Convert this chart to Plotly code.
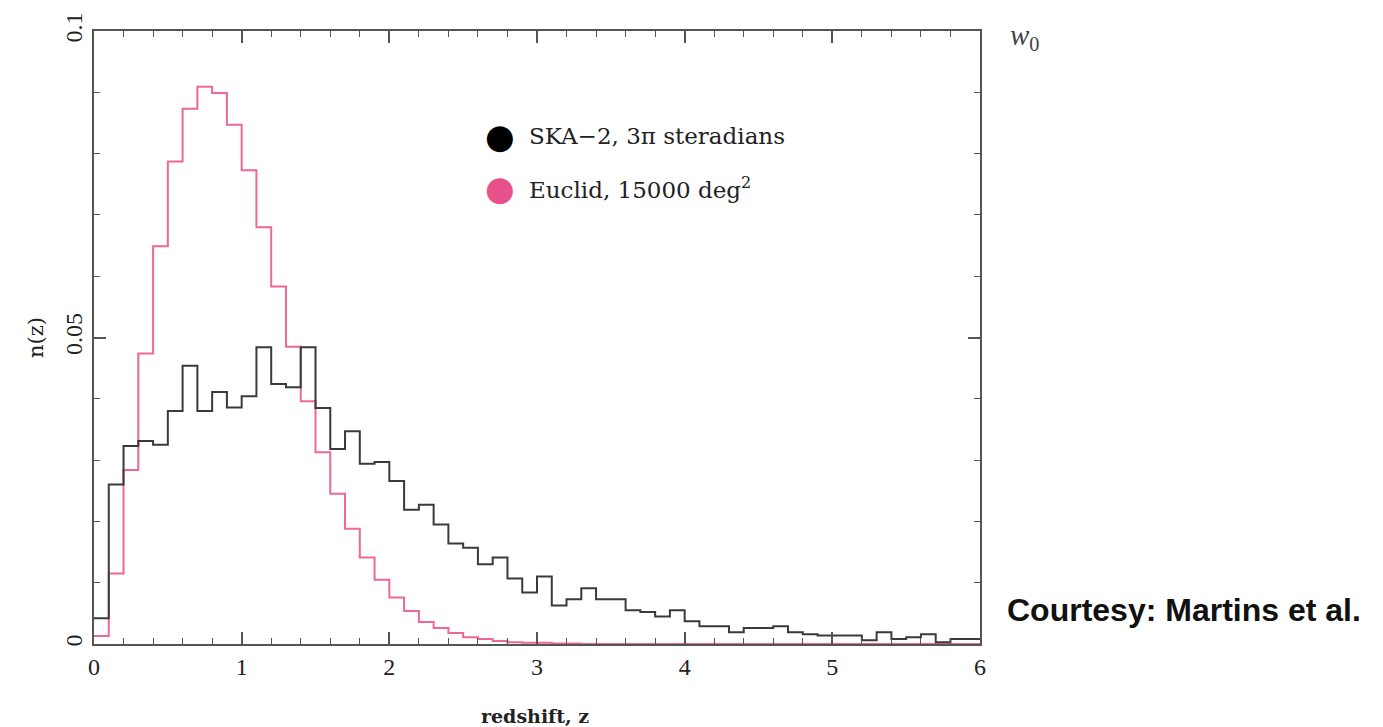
import numpy as np
import plotly.graph_objects as go

# bin edges: redshift 0..6 in steps of 0.1
bin_width = 0.1
n_bins = 60

ska_values = [
    0.0042, 0.0260, 0.0323, 0.0331, 0.0325, 0.0380, 0.0454, 0.0380, 0.0411, 0.0386,
    0.0404, 0.0484, 0.0424, 0.0419, 0.0484, 0.0385, 0.0318, 0.0347, 0.0294, 0.0297,
    0.0266, 0.0219, 0.0227, 0.0195, 0.0164, 0.0157, 0.0130, 0.0141, 0.0107, 0.0084,
    0.0110, 0.0063, 0.0073, 0.0091, 0.0073, 0.0073, 0.0055, 0.0052, 0.0045, 0.0055,
    0.0037, 0.0029, 0.0029, 0.0019, 0.0026, 0.0026, 0.0029, 0.0019, 0.0016, 0.0014,
    0.0014, 0.0014, 0.0006, 0.0019, 0.0008, 0.0011, 0.0016, 0.0003, 0.0008, 0.0008,
]

euclid_values = [
    0.0013, 0.0115, 0.0284, 0.0474, 0.0649, 0.0787, 0.0873, 0.0909, 0.0899, 0.0847,
    0.0773, 0.0680, 0.0583, 0.0485, 0.0396, 0.0313, 0.0245, 0.0188, 0.0141, 0.0105,
    0.0076, 0.0054, 0.0036, 0.0026, 0.0018, 0.0011, 0.0008, 0.0005, 0.0003, 0.0002,
    0.0002, 0.0001, 0.0001, 0.0, 0.0, 0.0, 0.0, 0.0, 0.0, 0.0,
    0.0, 0.0, 0.0, 0.0, 0.0, 0.0, 0.0, 0.0, 0.0, 0.0,
    0.0, 0.0, 0.0, 0.0, 0.0, 0.0, 0.0, 0.0, 0.0, 0.0,
]

x_tick_vals = [0, 1, 2, 3, 4, 5, 6]
x_tick_text = ["0", "1", "2", "3", "4", "5", "6"]
y_tick_vals = [0, 0.05, 0.1]
y_tick_text = ["0", "0.05", "0.1"]

ska_label = "SKA\u22122, 3\u03c0 steradians"
euclid_label = "Euclid, 15000 deg<sup>2</sup>"

edges = np.arange(n_bins + 1) * bin_width


def step_xy(vals):
    xs = list(edges)
    ys = list(vals) + [vals[-1]]
    return xs, ys


BLACK = "#3a3a3a"
PINK = "#ef6894"
AXIS = "#555555"
SERIF = "DejaVu Serif"
TICKFONT = dict(size=24, family="Liberation Serif", color="#222")

fig = go.Figure()
ex, ey = step_xy(euclid_values)
fig.add_trace(go.Scatter(x=ex, y=ey, mode="lines", line=dict(shape="hv", color=PINK, width=2),
                         showlegend=False, hoverinfo="skip"))
sx, sy = step_xy(ska_values)
fig.add_trace(go.Scatter(x=sx, y=sy, mode="lines", line=dict(shape="hv", color=BLACK, width=2),
                         showlegend=False, hoverinfo="skip"))

fig.update_layout(
    width=1383, height=727,
    margin=dict(l=94, r=403, t=28, b=83),
    paper_bgcolor="white", plot_bgcolor="white",
    font=dict(family=SERIF, color="#222"),
    showlegend=False,
)
fig.update_xaxes(
    range=[0, 6], showgrid=False, zeroline=False,
    showline=True, linecolor=AXIS, linewidth=2, mirror="ticks",
    ticks="inside", ticklen=12, tickwidth=1.5, tickcolor=AXIS,
    tickvals=x_tick_vals, ticktext=x_tick_text,
    tickfont=TICKFONT,
    minor=dict(dtick=0.2, ticks="inside", ticklen=6, tickwidth=1.2, tickcolor=AXIS, showgrid=False),
)
fig.update_yaxes(
    range=[0, 0.1], showgrid=False, zeroline=False,
    showline=True, linecolor=AXIS, linewidth=2, mirror="ticks",
    ticks="inside", ticklen=12, tickwidth=1.5, tickcolor=AXIS,
    tickvals=y_tick_vals, ticktext=y_tick_text, tickangle=-90,
    tickfont=TICKFONT,
    minor=dict(dtick=0.01, ticks="inside", ticklen=6, tickwidth=1.2, tickcolor=AXIS, showgrid=False),
)

ann = []
# axis titles
ann.append(dict(text="<b>redshift, z</b>", x=0.498, y=-0.117, xref="paper", yref="paper",
                xanchor="center", yanchor="middle", showarrow=False,
                font=dict(size=19, family=SERIF, color="#222")))
ann.append(dict(text="n(z)", x=-0.066, y=0.5, xref="paper", yref="paper", textangle=-90,
                xanchor="center", yanchor="middle", showarrow=False,
                font=dict(size=21, family=SERIF, color="#222")))
# legend
ann.append(dict(text="\u25cf", x=0.458, y=0.8295, xref="paper", yref="paper",
                xanchor="center", yanchor="middle", showarrow=False,
                font=dict(size=34, color="#000")))
ann.append(dict(text=ska_label, x=0.489, y=0.8295, xref="paper", yref="paper",
                xanchor="left", yanchor="middle", showarrow=False,
                font=dict(size=23, family=SERIF, color="#222")))
ann.append(dict(text="\u25cf", x=0.458, y=0.7435, xref="paper", yref="paper",
                xanchor="center", yanchor="middle", showarrow=False,
                font=dict(size=34, color="#e8508a")))
ann.append(dict(text=euclid_label, x=0.489, y=0.7435, xref="paper", yref="paper",
                xanchor="left", yanchor="middle", showarrow=False,
                font=dict(size=23, family=SERIF, color="#222")))
# right side labels
ann.append(dict(text="<i>w</i><sub>0</sub>", x=1.0316, y=0.99, xref="paper", yref="paper",
                xanchor="left", yanchor="middle", showarrow=False,
                font=dict(size=29, family="Liberation Serif", color="#444")))
ann.append(dict(text="<b>Courtesy: Martins et al.</b>", x=1.028, y=0.055, xref="paper", yref="paper",
                xanchor="left", yanchor="middle", showarrow=False,
                font=dict(size=32, family="Liberation Sans", color="#111")))
fig.update_layout(annotations=ann)

fig.write_html("out.html")
